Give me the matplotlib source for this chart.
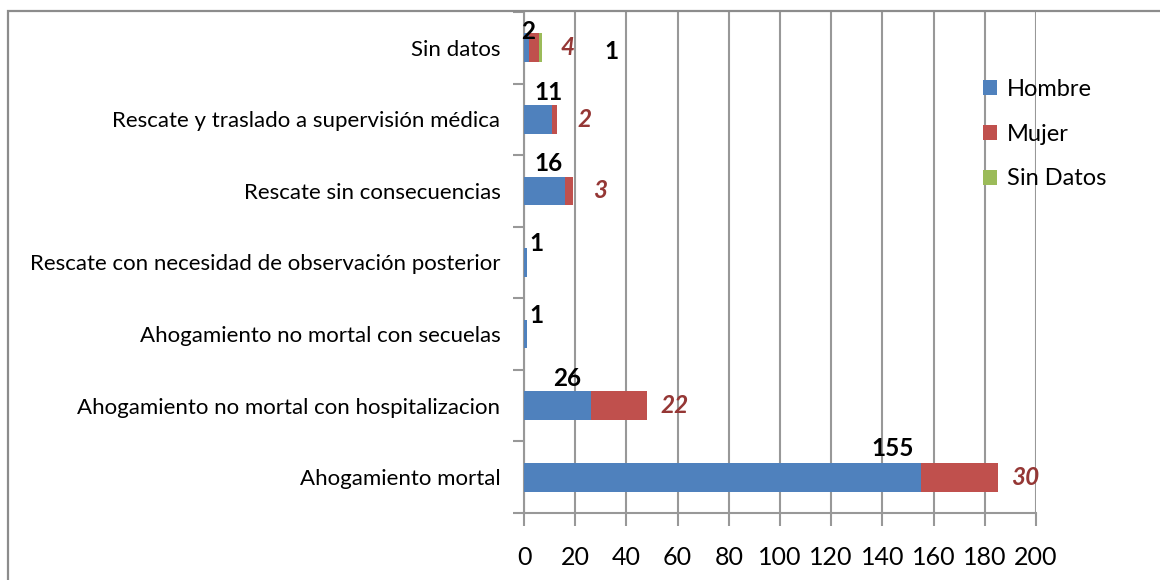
import matplotlib.pyplot as plt
from matplotlib.patches import Rectangle

categories = ['Ahogamiento mortal',
              'Ahogamiento no mortal con hospitalizacion',
              'Ahogamiento no mortal con secuelas',
              'Rescate con necesidad de observación posterior',
              'Rescate sin consecuencias',
              'Rescate y traslado a supervisión médica',
              'Sin datos']
hombre = [155, 26, 1, 1, 16, 11, 2]
mujer = [30, 22, 0, 0, 3, 2, 4]
sin_datos = [0, 0, 0, 0, 0, 0, 1]

c_h = '#4F81BD'
c_m = '#C0504D'
c_s = '#9BBB59'
grey = '#989898'

plt.rcParams['font.family'] = ['Lato', 'DejaVu Sans']

fig = plt.figure(figsize=(11.6, 5.8), dpi=100)
ax = fig.add_axes([524 / 1160, 1 - 513 / 580, 512 / 1160, 501 / 580])

y = list(range(len(categories)))
left_m = hombre
left_s = [h + m for h, m in zip(hombre, mujer)]
ax.barh(y, hombre, height=0.4, color=c_h, label='Hombre', zorder=3)
ax.barh(y, mujer, left=left_m, height=0.4, color=c_m, label='Mujer', zorder=3)
ax.barh(y, sin_datos, left=left_s, height=0.4, color=c_s, label='Sin Datos', zorder=3)

ax.set_xlim(0, 200)
ax.set_ylim(-0.5, len(categories) - 0.5)
ax.set_xticks(range(0, 201, 20))
ax.set_yticks(y)
ax.set_yticklabels(categories, fontsize=16)
ax.set_yticks([i - 0.5 for i in range(len(categories) + 1)], minor=True)
ax.tick_params(axis='y', which='major', length=0, pad=17)
ax.tick_params(axis='y', which='minor', length=8, color=grey, width=1.5)
ax.tick_params(axis='x', length=9, color=grey, width=1.5, labelsize=18, pad=15)
ax.grid(axis='x', color=grey, linewidth=1.5, zorder=0)
for s in ['top', 'right']:
    ax.spines[s].set_visible(False)
for s in ['left', 'bottom']:
    ax.spines[s].set_color(grey)
    ax.spines[s].set_linewidth(1.5)

# value labels
h_off = [(-28, 29), (-23, 27), (10, 19), (10, 19), (-17, 27), (-4, 27), (-1, 16)]
for i, v in enumerate(hombre):
    if v:
        dx, dy = h_off[i]
        ax.annotate(str(v), (v, i), xytext=(dx * 0.72, dy * 0.72), textcoords='offset points',
                    ha='center', va='center', fontsize=17.5, fontweight='bold', color='black')
for i, v in enumerate(mujer):
    if v:
        ax.annotate(str(v), (left_m[i] + v, i), xytext=(20, 0), textcoords='offset points',
                    ha='center', va='center', fontsize=17.5, fontweight='bold',
                    fontstyle='italic', color='#953735')
for i, v in enumerate(sin_datos):
    if v:
        ax.annotate(str(v), (left_s[i] + v, i), xytext=(50, -3), textcoords='offset points',
                    ha='center', va='center', fontsize=17.5, fontweight='bold', color='black')

fig.legend(loc='upper left', bbox_to_anchor=(962 / 1160, 1 - 58 / 580), frameon=False,
           fontsize=17, handlelength=0.6, handleheight=0.6, handletextpad=0.4,
           labelspacing=1.0)

fig.patches.append(Rectangle((8 / 1160, -0.05), 1.1, 1 - 11 / 580 + 0.05,
                             transform=fig.transFigure, fill=False,
                             edgecolor='#8c8c8c', linewidth=1.6))

fig.savefig('out.png', dpi=100)
